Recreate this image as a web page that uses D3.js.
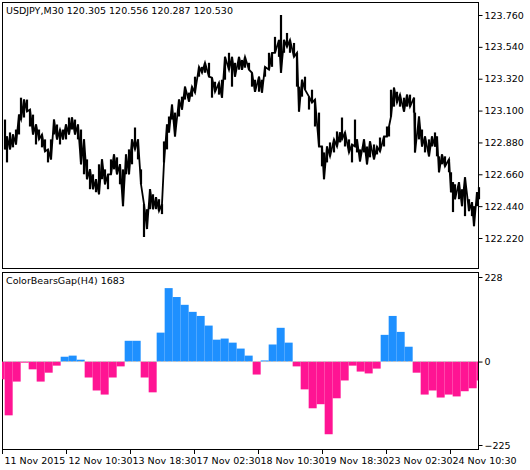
<!DOCTYPE html>
<html><head><meta charset="utf-8">
<script src="https://cdn.jsdelivr.net/npm/d3@7"></script>
<style>body{margin:0;background:#fff}text{font-family:"DejaVu Sans",sans-serif;font-size:9.5px;fill:#000}</style>
</head><body><svg id="c" width="530" height="470"></svg>
<script>
const barIndex=[3,5,8,11,14,17,19,22,25,28,31,34,37,40,43,46,49,52,55,58,61,64,67,70,73,76,79,82,85,88,91,94,97,100,103,106,109,112,115,118,121,124,127,130,133,136,139,142,145,148,151,154,157,160,162,165,167,170,173,177,180,183,187,190,193,197,200,203,207,210,213,217,220,223,227,230,233,237,240,243,247,250,253,257,260,263,267,270,273,277,279,282,285,288,292,295,297,300,303,307,310,313,317,320,322,325,328,332,335,338,340,343,347,350,353,355,358,362,365,368,372,375,378,382,385,387,389,392,395,398,402,405,408,412,413,417,420,423,427,430,433,435,437,440,443,447,449,451,453,457,460,463,467,470,472,475,477];
const high=[123.038,122.921,122.949,122.935,122.969,123.072,123.189,123.176,123.176,123.107,123.072,123.004,122.969,122.935,122.901,122.832,122.901,123.038,123.004,122.969,122.969,123.004,123.052,123.052,123.038,123.004,122.969,122.901,122.763,122.694,122.660,122.626,122.729,122.763,122.694,122.660,122.763,122.797,122.777,122.729,122.694,122.797,122.832,122.901,122.983,122.901,122.694,122.454,122.419,122.557,122.522,122.502,122.488,122.454,122.887,123.004,123.059,123.141,123.086,123.176,123.196,123.265,123.224,123.265,123.334,123.402,123.402,123.430,123.430,123.327,123.299,123.292,123.313,123.471,123.499,123.471,123.430,123.471,123.450,123.471,123.430,123.361,123.313,123.334,123.313,123.402,123.499,123.499,123.609,123.588,123.760,123.588,123.636,123.588,123.567,123.499,123.265,123.313,123.334,123.196,123.244,123.176,123.086,122.852,122.811,122.852,122.880,122.901,122.956,122.949,123.052,122.949,122.901,122.866,123.038,122.901,122.832,122.901,122.852,122.887,122.866,122.852,122.914,122.921,122.990,122.990,123.244,123.258,123.230,123.210,123.189,123.210,123.210,123.189,123.086,123.059,122.969,122.921,122.901,122.921,122.949,122.921,122.784,122.797,122.784,122.763,122.674,122.605,122.591,122.605,122.557,122.639,122.488,122.467,122.440,122.536,122.571];
const low=[122.832,122.742,122.832,122.846,122.866,122.935,123.038,123.052,123.093,122.990,122.935,122.866,122.901,122.846,122.818,122.742,122.763,122.935,122.901,122.866,122.901,122.901,122.935,122.969,122.935,122.901,122.729,122.660,122.626,122.557,122.557,122.536,122.522,122.626,122.591,122.557,122.660,122.694,122.660,122.591,122.440,122.660,122.660,122.729,122.832,122.763,122.591,122.227,122.282,122.419,122.419,122.419,122.406,122.385,122.742,122.832,122.949,123.038,122.921,123.059,123.107,123.176,123.162,123.196,123.224,123.334,123.361,123.361,123.334,123.189,123.230,123.210,123.189,123.313,123.382,123.265,123.334,123.382,123.382,123.396,123.382,123.265,123.230,123.230,123.224,123.334,123.382,123.402,123.499,123.471,123.361,123.499,123.540,123.499,123.471,123.265,123.093,123.196,123.244,123.107,123.155,122.990,122.852,122.715,122.626,122.742,122.784,122.811,122.852,122.880,122.901,122.852,122.811,122.742,122.852,122.811,122.749,122.811,122.729,122.777,122.763,122.797,122.818,122.852,122.921,122.921,123.059,123.127,123.155,123.127,123.093,123.127,123.127,123.086,122.811,122.901,122.852,122.811,122.784,122.852,122.852,122.784,122.674,122.729,122.715,122.674,122.536,122.399,122.488,122.488,122.440,122.371,122.406,122.371,122.302,122.440,122.488];
const histValues=[-48,-145,-54,-3,-21,-54,-30,-11,13,16,5,-43,-78,-89,-43,-13,56,56,-43,-83,78,198,174,153,134,123,97,59,62,51,35,16,-35,3,46,91,51,-13,-75,-126,-115,-196,-99,-51,-11,-27,-32,-19,72,123,80,40,-30,-89,-78,-97,-89,-94,-80,-72,-51];
const priceTicks=[123.760,123.540,123.320,123.100,122.880,122.660,122.440,122.220];
const histTicks=[228,0,-225];
const dateLabels=["11 Nov 2015","12 Nov 10:30","13 Nov 18:30","17 Nov 02:30","18 Nov 10:30","19 Nov 18:30","23 Nov 02:30","24 Nov 10:30"];
const title="USDJPY,M30  120.305 120.556 120.287 120.530";
const histTitle="ColorBearsGap(H4) 1683";

const svg=d3.select("#c");
const L=2,R=478;
const x=d3.scaleLinear().domain([0,476]).range([L,R]);
const y=d3.scaleLinear().domain([122.220,123.760]).range([238,15]);
const yh=d3.scaleLinear().domain([-225,228]).range([445,277]);
svg.append("defs").append("clipPath").attr("id","cp").append("rect").attr("x",L).attr("y",272).attr("width",R-L).attr("height",178);
// frames
svg.append("rect").attr("x",L+0.5).attr("y",2.5).attr("width",R-L).attr("height",266).attr("fill","none").attr("stroke","#000");
svg.append("rect").attr("x",L+0.5).attr("y",272.5).attr("width",R-L).attr("height",177).attr("fill","none").attr("stroke","#000");
// price
const pts=barIndex.map((b,i)=>({b,h:high[i],l:low[i]}));
svg.append("g").selectAll("line").data(pts).join("line")
 .attr("x1",d=>x(d.b)).attr("x2",d=>x(d.b)).attr("y1",d=>y(d.h)).attr("y2",d=>y(d.l))
 .attr("stroke","#000").attr("stroke-width",2.2);
svg.append("path").datum(pts).attr("fill","none").attr("stroke","#000").attr("stroke-width",1.8)
 .attr("d",d3.line().x(d=>x(d.b)).y((d,i)=>y(i%2?d.h:d.l)));
// price axis
const pa=svg.append("g").attr("transform",`translate(${R+0.5},0)`).call(d3.axisRight(y).tickValues(priceTicks).tickFormat(d3.format(".3f")).tickSize(4).tickPadding(2));
pa.select(".domain").attr("d","M0,2V268");
pa.selectAll("text").style("font-family","DejaVu Sans").style("font-size","9.5px");
// histogram
const hx=k=>x(-5.33+8*k);
const hg=svg.append("g").attr("clip-path","url(#cp)");
hg.selectAll("rect").data(histValues).join("rect")
 .attr("x",(d,k)=>hx(k)).attr("width",8)
 .attr("y",d=>d>0?yh(d):yh(0)).attr("height",d=>Math.abs(yh(d)-yh(0)))
 .attr("fill",d=>d>0?"#1e90ff":"#ff1493");
svg.append("line").attr("x1",L+1).attr("x2",R).attr("y1",yh(0)).attr("y2",yh(0)).attr("stroke","#c0c0c0").attr("stroke-dasharray","3,2");
const ha=svg.append("g").attr("transform",`translate(${R+0.5},0)`).call(d3.axisRight(yh).tickValues(histTicks).tickSize(4).tickPadding(2));
ha.select(".domain").attr("d","M0,272V450");
ha.selectAll("text").style("font-family","DejaVu Sans").style("font-size","9.5px");
// date axis
const dx=d3.scaleLinear().domain([0,7]).range([L,L+448]);
const dg=svg.append("g").selectAll("g").data(dateLabels).join("g").attr("transform",(d,i)=>`translate(${Math.round(dx(i))+0.5},450)`);
dg.append("line").attr("y1",0).attr("y2",4).attr("stroke","#000");
dg.append("text").attr("x",2).attr("y",14).text(d=>d);
svg.append("text").attr("x",6).attr("y",14).text(title);
svg.append("text").attr("x",6).attr("y",284).text(histTitle);
</script></body></html>
